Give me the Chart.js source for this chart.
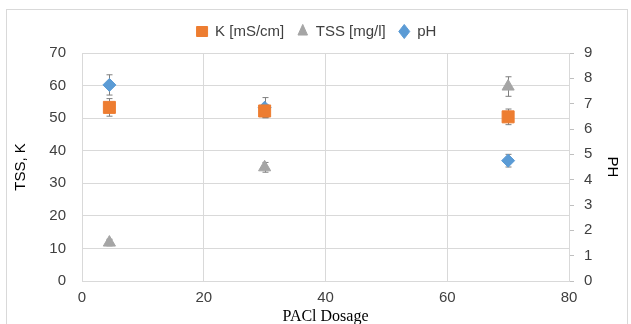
<!DOCTYPE html>
<html lang="en">
<head>
  <meta charset="UTF-8">
  <title>PACl Dosage</title>
  <script src="https://cdn.jsdelivr.net/npm/chart.js"></script>
  <style>
    body { margin: 0; background: #fff; }
    canvas { display: block; }
  </style>
</head>
<body>
  <canvas id="chart" width="631" height="324"></canvas>

  <script>
    // dosage (x) and measured values
    const dosage = [4.5, 30, 70];
    const kValues = [53.3, 52.2, 50.4];
    const kErr = [2.7, 2.0, 2.4];
    const tssValues = [11.8, 34.9, 59.7];
    const tssErr = [1.0, 1.5, 3.0];
    const phValues = [7.74, 6.84, 4.75];
    const phErr = [0.4, 0.4, 0.25];

    const leftTicks = [0, 10, 20, 30, 40, 50, 60, 70];
    const rightTicks = [0, 1, 2, 3, 4, 5, 6, 7, 8, 9];
    const xTicks = [0, 20, 40, 60, 80];

    const font = 'Liberation Sans, Arial, sans-serif';
    const gridColor = '#d9d9d9';

    const toPoints = (ys) => ys.map((y, i) => ({ x: dosage[i], y: y }));

    // frame around the whole chart
    const frame = {
      id: 'frame',
      beforeDraw(chart) {
        const c = chart.ctx;
        c.save();
        c.fillStyle = '#fff';
        c.fillRect(0, 0, chart.width, chart.height);
        c.strokeStyle = '#d9d9d9';
        c.lineWidth = 1;
        c.strokeRect(6.5, 9.5, 621, 340);
        c.restore();
      }
    };

    // a bit more room under the legend
    const legendGap = {
      id: 'legendGap',
      beforeLayout(chart) {
        const lg = chart.legend;
        if (lg && !lg._gapDone) {
          const fit = lg.fit;
          lg.fit = function () { fit.call(this); this.height += 4; };
          lg._gapDone = true;
        }
      }
    };

    // error bars drawn under the markers
    const errorBars = {
      id: 'errorBars',
      beforeDatasetsDraw(chart) {
        const c = chart.ctx;
        c.save();
        c.strokeStyle = '#7f7f7f';
        c.lineWidth = 1;
        chart.data.datasets.forEach((ds, i) => {
          const meta = chart.getDatasetMeta(i);
          const scale = chart.scales[ds.yAxisID];
          meta.data.forEach((pt, j) => {
            const v = ds.data[j].y;
            const e = ds.errors[j];
            const x = Math.round(pt.x) + 0.5;
            const top = scale.getPixelForValue(v + e);
            const bot = scale.getPixelForValue(v - e);
            c.beginPath();
            c.moveTo(x, top); c.lineTo(x, bot);
            c.moveTo(x - 3, top); c.lineTo(x + 3, top);
            c.moveTo(x - 3, bot); c.lineTo(x + 3, bot);
            c.stroke();
          });
        });
        c.restore();
      }
    };

    new Chart(document.getElementById('chart'), {
      type: 'scatter',
      data: {
        datasets: [
          {
            label: 'K [mS/cm]',
            data: toPoints(kValues),
            errors: kErr,
            yAxisID: 'y',
            pointStyle: 'rect',
            pointRadius: 8.5,
            pointHoverRadius: 8.5,
            backgroundColor: '#ED7D31',
            borderColor: '#ED7D31'
          },
          {
            label: 'TSS [mg/l]',
            data: toPoints(tssValues),
            errors: tssErr,
            yAxisID: 'y',
            pointStyle: 'triangle',
            pointRadius: 7,
            pointHoverRadius: 7,
            backgroundColor: '#A5A5A5',
            borderColor: '#A5A5A5'
          },
          {
            label: 'pH',
            data: toPoints(phValues),
            errors: phErr,
            yAxisID: 'y2',
            pointStyle: 'rectRot',
            pointRadius: 6.5,
            pointHoverRadius: 6.5,
            backgroundColor: '#5B9BD5',
            borderColor: '#5B9BD5'
          }
        ]
      },
      options: {
        responsive: false,
        animation: false,
        layout: { padding: { left: 12, right: 10, top: 11, bottom: 0 } },
        plugins: {
          tooltip: { enabled: false },
          legend: {
            position: 'top',
            labels: {
              usePointStyle: true,
              pointStyleWidth: 11,
              boxHeight: 10,
              padding: 13,
              color: '#404040',
              font: { family: font, size: 15 }
            }
          }
        },
        scales: {
          x: {
            type: 'linear',
            min: 0,
            max: 80,
            afterBuildTicks: (s) => { s.ticks = xTicks.map(v => ({ value: v })); },
            afterFit: (s) => { s.height = 43; },
            grid: { color: gridColor, drawTicks: false },
            border: { color: gridColor },
            ticks: { color: '#404040', padding: 8, font: { family: font, size: 15 } },
            title: {
              display: true,
              text: 'PACl Dosage',
              color: '#000',
              padding: { top: 0, bottom: -2 },
              font: { family: 'Liberation Serif, Times New Roman, serif', size: 16 }
            }
          },
          y: {
            position: 'left',
            min: 0,
            max: 70,
            afterBuildTicks: (s) => { s.ticks = leftTicks.map(v => ({ value: v })); },
            afterFit: (s) => { s.width = 70; },
            grid: { color: gridColor, drawTicks: false },
            border: { display: false },
            ticks: { color: '#404040', padding: 16, font: { family: font, size: 15 } },
            title: {
              display: true,
              text: 'TSS, K',
              color: '#000',
              padding: 0,
              font: { family: font, size: 15 }
            }
          },
          y2: {
            position: 'right',
            min: 0,
            max: 9,
            afterBuildTicks: (s) => { s.ticks = rightTicks.map(v => ({ value: v })); },
            afterFit: (s) => { s.width = 52; },
            grid: { drawOnChartArea: false, color: '#bfbfbf', tickLength: 5 },
            border: { color: gridColor },
            ticks: { color: '#404040', padding: 10, font: { family: font, size: 15 } },
            title: {
              display: true,
              text: 'PH',
              color: '#000',
              padding: 0,
              font: { family: font, size: 15 }
            }
          }
        }
      },
      plugins: [frame, legendGap, errorBars]
    });
  </script>
</body>
</html>
